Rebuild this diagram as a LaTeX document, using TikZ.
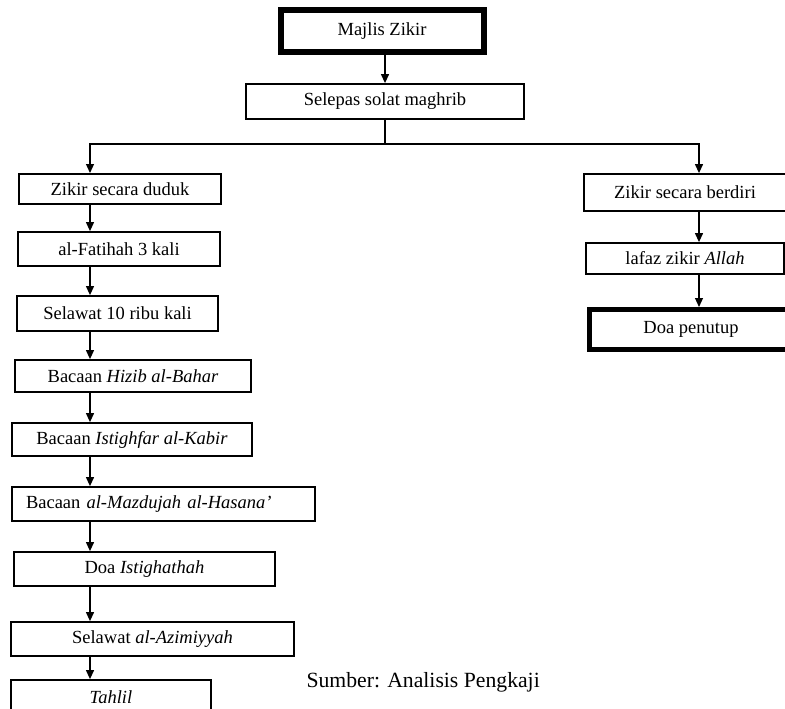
\documentclass[tikz,border=0pt]{standalone}
\usepackage{fontspec}
\setmainfont{Liberation Serif}
\usetikzlibrary{arrows.meta}
\def\boxfont{\fontsize{18.5}{20}\selectfont}
\def\srcfont{\fontsize{21.7}{24}\selectfont}

\begin{document}
\begin{tikzpicture}[x=1pt, y=-1pt,
	box/.style={draw, line width=1.8pt, inner sep=0pt, font=\boxfont},
	heavy/.style={box, line width=6pt},
	link/.style={-{Triangle[length=9pt,width=8pt]}, line width=1.2pt}]
	\useasboundingbox (0,0) rectangle (785,709);
	%\draw[step=50, black!20!white] (0,0) grid (785,709);
	\coordinate (mid) at (385,0);
	\coordinate (lspine) at (90,0);
	\coordinate (rspine) at (699,0);
	\node[heavy, minimum width=203, minimum height=42] (majlis) at (382,31){Majlis Zikir};
	\node[box, minimum width=278, minimum height=35] (selepas) at (385,101.5){Selepas solat maghrib};
	% duduk
	\node[box, line width=2.4pt, minimum width=201.6, minimum height=29.6] (duduk) at (120,189){Zikir secara duduk};
	\node[box, minimum width=202, minimum height=34] (fatihah) at (119,249){al-Fatihah 3 kali};
	\node[box, minimum width=201, minimum height=35] (selawat) at (117.5,313.5){Selawat 10 ribu kali};
	\node[box, minimum width=236, minimum height=32] (hizib) at (133,376){Bacaan \textit{Hizib al-Bahar}};
	\node[box, minimum width=240, minimum height=33] (istighfar) at (132,439.5){Bacaan \textit{Istighfar al-Kabir}};
	\node[box, text width=275, align=left, inner xsep=14, minimum height=34] (mazdujah) at (163.5,504){Bacaan \textit{al-Mazdujah al-Hasana'}};
	\node[box, minimum width=261, minimum height=34] (istighathah) at (144.5,569){Doa \textit{Istighathah}};
	\node[box, minimum width=283, minimum height=34] (azimiyyah) at (152.5,639){Selawat \textit{al-Azimiyyah}};
	\node[box, minimum width=200, minimum height=34] (tahlil) at (111,697){\textit{Tahlil}};
	% berdiri
	\node[box, minimum width=202, minimum height=37] (berdiri) at (685,192.5){Zikir secara berdiri};
	\node[box, minimum width=198, minimum height=31] (lafaz) at (685,258.5){lafaz zikir \textit{Allah}};
	\node[heavy, line width=5pt, minimum width=203, minimum height=40] (penutup) at (691,329.5){Doa penutup};
	\node[anchor=base west, font=\srcfont] (sumber) at (303,687){Sumber: Analisis Pengkaji};

	\draw[link] (majlis.south -| mid) -- (selepas.north -| mid);
	\draw[line width=1.2pt] (selepas.south -| mid) -- ++(0,24) coordinate (fork);
	\draw[link] (fork) -| (duduk.north -| lspine);
	\draw[link] (fork) -| (berdiri.north -| rspine);
	\draw[link] (duduk.south -| lspine) -- (fatihah.north -| lspine);
	\draw[link] (fatihah.south -| lspine) -- (selawat.north -| lspine);
	\draw[link] (selawat.south -| lspine) -- (hizib.north -| lspine);
	\draw[link] (hizib.south -| lspine) -- (istighfar.north -| lspine);
	\draw[link] (istighfar.south -| lspine) -- (mazdujah.north -| lspine);
	\draw[link] (mazdujah.south -| lspine) -- (istighathah.north -| lspine);
	\draw[link] (istighathah.south -| lspine) -- (azimiyyah.north -| lspine);
	\draw[link] (azimiyyah.south -| lspine) -- (tahlil.north -| lspine);
	\draw[link] (berdiri.south -| rspine) -- (lafaz.north -| rspine);
	\draw[link] (lafaz.south -| rspine) -- (penutup.north -| rspine);
\end{tikzpicture}
\end{document}
